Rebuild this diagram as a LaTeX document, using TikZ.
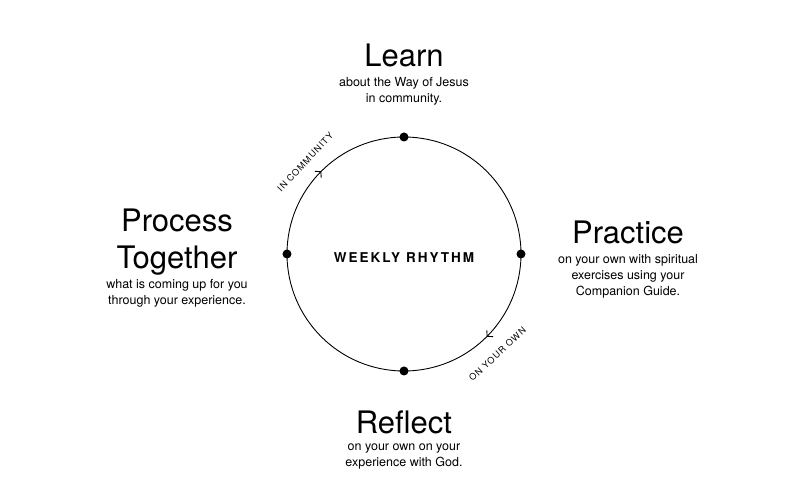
\documentclass[tikz,border=0pt]{standalone}
\usepackage{fontspec}
\setmainfont{TeX Gyre Heros}
\newfontfamily\spacedfont[LetterSpace=15]{TeX Gyre Heros}
\newfontfamily\tagfont[LetterSpace=11]{TeX Gyre Heros}
\usetikzlibrary{positioning,arrows.meta,decorations.markings}

\begin{document}
\begin{tikzpicture}[x=1pt, y=1pt,
    dot/.style={circle, fill=black, inner sep=0pt, minimum size=9pt},
    heading/.style={inner sep=0pt, anchor=south, text depth=0pt, align=center,
        font=\fontsize{31}{37}\selectfont},
    blurb/.style={inner sep=0pt, align=center, font=\fontsize{12.5}{16}\selectfont,
        execute at begin node=\strut},
    tag/.style={inner sep=0pt, font=\tagfont\fontsize{9}{10}\selectfont},
    plain/.style={line width=0.9pt},
    ring/.style={plain, postaction={decorate}, decoration={markings,
        mark=at position 0.5 with {\arrow{Straight Barb[length=4pt,width=9pt,line width=0.9pt]}}}},
    node distance=10pt]
	\useasboundingbox (-404,-249) rectangle (397,254);
	% The four stations of the week
	\node[dot] (top)    at (90:117)  {};
	\node[dot] (right)  at (0:117)   {};
	\node[dot] (bottom) at (-90:117) {};
	\node[dot] (left)   at (180:117) {};
	% The ring between them
	\draw[ring]  (left)   arc[start angle=180, end angle=90,   radius=117pt];
	\draw[plain] (top)    arc[start angle=90,  end angle=0,    radius=117pt];
	\draw[ring]  (right)  arc[start angle=0,   end angle=-90,  radius=117pt];
	\draw[plain] (bottom) arc[start angle=-90, end angle=-180, radius=117pt];
	\node[tag, rotate=47] (community) at (137:135)  {IN COMMUNITY};
	\node[tag, rotate=43] (own)       at (-47:137)  {ON YOUR OWN};
	\node[inner sep=0pt, anchor=base, font=\spacedfont\bfseries\fontsize{13.5}{15}\selectfont]
		(rhythm) at (0,-9) {WEEKLY RHYTHM};
	% Headings with their notes
	\node[heading] (learn) at (0,187) {Learn};
	\node[blurb, below=of learn] (learnnote) {about the Way of Jesus\\in community.};
	\node[heading] (practice) at (224,10) {Practice};
	\node[blurb, below=of practice] (practicenote)
		{on your own with spiritual\\exercises using your\\Companion Guide.};
	\node[heading] (reflect) at (0,-180) {Reflect};
	\node[blurb, below=of reflect] (reflectnote) {on your own on your\\experience with God.};
	\node[heading] (process) at (-227,-15) {Process\\Together};
	\node[blurb, below=of process] (processnote)
		{what is coming up for you\\through your experience.};
\end{tikzpicture}
\end{document}
